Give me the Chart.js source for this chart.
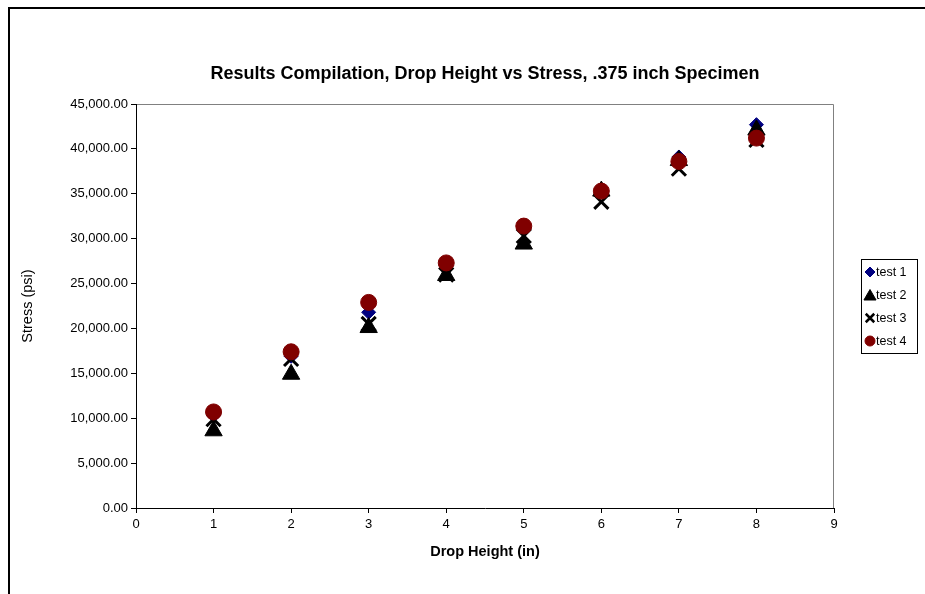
<!DOCTYPE html>
<html>
<head>
<meta charset="utf-8">
<title>Drop Height vs Stress</title>
<script src="https://cdn.jsdelivr.net/npm/chart.js@4"></script>
<style>
  html, body { margin: 0; padding: 0; background: #fff; }
  #wrap { width: 925px; height: 594px; }
</style>
</head>
<body>
<div id="wrap"><canvas id="grafico" width="925" height="594"></canvas></div>
<script>
var alturas = [1, 2, 3, 4, 5, 6, 7, 8];

var test1 = [10300, 16900, 21800, 27000, 31100, 35400, 39100, 42700];
var test2 = [8600, 14900, 20100, 25900, 29400, 35300, 38700, 42100];
var test3 = [9900, 16600, 20500, 26000, 30300, 34100, 37800, 41000];
var test4 = [10700, 17400, 22900, 27300, 31400, 35300, 38600, 41200];

var nomes = ['test 1', 'test 2', 'test 3', 'test 4'];
var titulo = 'Results Compilation, Drop Height vs Stress, .375 inch Specimen';

var fonte = '"Liberation Sans", Arial, sans-serif';

function pontos(valores) {
    var lista = [];
    for (let i = 0; i < alturas.length; i++) {
        lista.push({ x: alturas[i], y: valores[i] });
    }
    return lista;
}

// moldura do objeto, borda cinza da area de plotagem e titulo
var moldura = {
    id: 'moldura',
    beforeDraw: function (chart) {
        var ctx = chart.ctx;
        ctx.save();
        ctx.fillStyle = '#fff';
        ctx.fillRect(0, 0, chart.width, chart.height);
        ctx.strokeStyle = '#000';
        ctx.lineWidth = 2;
        ctx.beginPath();
        ctx.moveTo(9, chart.height);
        ctx.lineTo(9, 8);
        ctx.lineTo(chart.width, 8);
        ctx.stroke();
        var a = chart.chartArea;
        ctx.strokeStyle = '#808080';
        ctx.lineWidth = 1;
        ctx.beginPath();
        ctx.moveTo(Math.round(a.left) + 0.5, Math.round(a.top) + 0.5);
        ctx.lineTo(Math.round(a.right) - 0.5, Math.round(a.top) + 0.5);
        ctx.lineTo(Math.round(a.right) - 0.5, Math.round(a.bottom));
        ctx.stroke();

        ctx.fillStyle = '#000';
        ctx.font = 'bold 18px ' + fonte;
        ctx.textAlign = 'center';
        ctx.textBaseline = 'middle';
        ctx.fillText(titulo, (a.left + a.right) / 2, 74);
        ctx.restore();
    }
};

// legenda com caixa, ao lado da area de plotagem
var legendaCaixa = {
    id: 'legendaCaixa',
    afterDraw: function (chart) {
        var ctx = chart.ctx;
        var x0 = 861, y0 = 259, w = 56, h = 94;
        ctx.save();
        ctx.fillStyle = '#fff';
        ctx.fillRect(x0, y0, w, h);
        ctx.strokeStyle = '#000';
        ctx.lineWidth = 1;
        ctx.strokeRect(x0 + 0.5, y0 + 0.5, w, h);
        ctx.font = '12.5px ' + fonte;
        ctx.textBaseline = 'middle';
        ctx.textAlign = 'left';
        var tamanhos = [5, 7, 6, 5];
        var larguras = [1, 1, 2.5, 1];
        for (let i = 0; i < chart.data.datasets.length; i++) {
            var ds = chart.data.datasets[i];
            var cy = 272 + i * 23;
            ctx.fillStyle = ds.backgroundColor;
            ctx.strokeStyle = ds.borderColor;
            ctx.lineWidth = larguras[i];
            Chart.helpers.drawPoint(ctx, { pointStyle: ds.pointStyle, rotation: 0, radius: tamanhos[i], borderWidth: larguras[i] }, 870, cy + (i == 1 ? 1.5 : 0));
            ctx.fillStyle = '#000';
            ctx.fillText(ds.label, 876, cy + 1);
        }
        ctx.restore();
    }
};

var fmt = new Intl.NumberFormat('en-US', { minimumFractionDigits: 2, maximumFractionDigits: 2 });

var grafico = new Chart(document.getElementById('grafico'), {
    type: 'scatter',
    data: {
        datasets: [{
            label: nomes[0],
            data: pontos(test1),
            pointStyle: 'rectRot',
            pointRadius: 7,
            backgroundColor: '#000080',
            borderColor: '#000080',
            pointBorderWidth: 1,
            order: 4
        }, {
            label: nomes[1],
            data: pontos(test2),
            pointStyle: 'triangle',
            pointRadius: 10,
            backgroundColor: '#000',
            borderColor: '#000',
            pointBorderWidth: 1,
            order: 3
        }, {
            label: nomes[2],
            data: pontos(test3),
            pointStyle: 'crossRot',
            pointRadius: 10,
            backgroundColor: '#000',
            borderColor: '#000',
            pointBorderWidth: 3,
            order: 2
        }, {
            label: nomes[3],
            data: pontos(test4),
            pointStyle: 'circle',
            pointRadius: 8,
            backgroundColor: '#800000',
            borderColor: '#800000',
            pointBorderWidth: 1,
            order: 1
        }]
    },
    options: {
        responsive: false,
        animation: false,
        layout: {
            padding: { left: 0, right: 91, top: 104, bottom: 0 }
        },
        plugins: {
            legend: { display: false },
            tooltip: { enabled: false },
            title: { display: false }
        },
        scales: {
            x: {
                type: 'linear',
                min: 0,
                max: 9,
                ticks: {
                    stepSize: 1,
                    color: '#000',
                    padding: 4,
                    font: { family: fonte, size: 13 }
                },
                grid: { display: true, drawOnChartArea: false, drawTicks: true, tickLength: 5, color: '#000' },
                border: { color: '#000', width: 1 },
                title: {
                    display: true,
                    text: 'Drop Height (in)',
                    color: '#000',
                    font: { family: fonte, size: 14.5, weight: 'bold' },
                    padding: { top: 0, bottom: 33 }
                },
                afterFit: function (scale) { scale.height = 86; }
            },
            y: {
                type: 'linear',
                min: 0,
                max: 45000,
                ticks: {
                    stepSize: 5000,
                    color: '#000',
                    padding: 3,
                    font: { family: fonte, size: 13 },
                    callback: function (v) { return fmt.format(v); }
                },
                grid: { display: true, drawOnChartArea: false, drawTicks: true, tickLength: 5, color: '#000' },
                border: { color: '#000', width: 1 },
                title: {
                    display: true,
                    text: 'Stress (psi)',
                    color: '#000',
                    font: { family: fonte, size: 14.5 },
                    padding: { top: 19, bottom: 0 }
                },
                afterFit: function (scale) { scale.width = 136; }
            }
        }
    },
    plugins: [moldura, legendaCaixa]
});
</script>
</body>
</html>
